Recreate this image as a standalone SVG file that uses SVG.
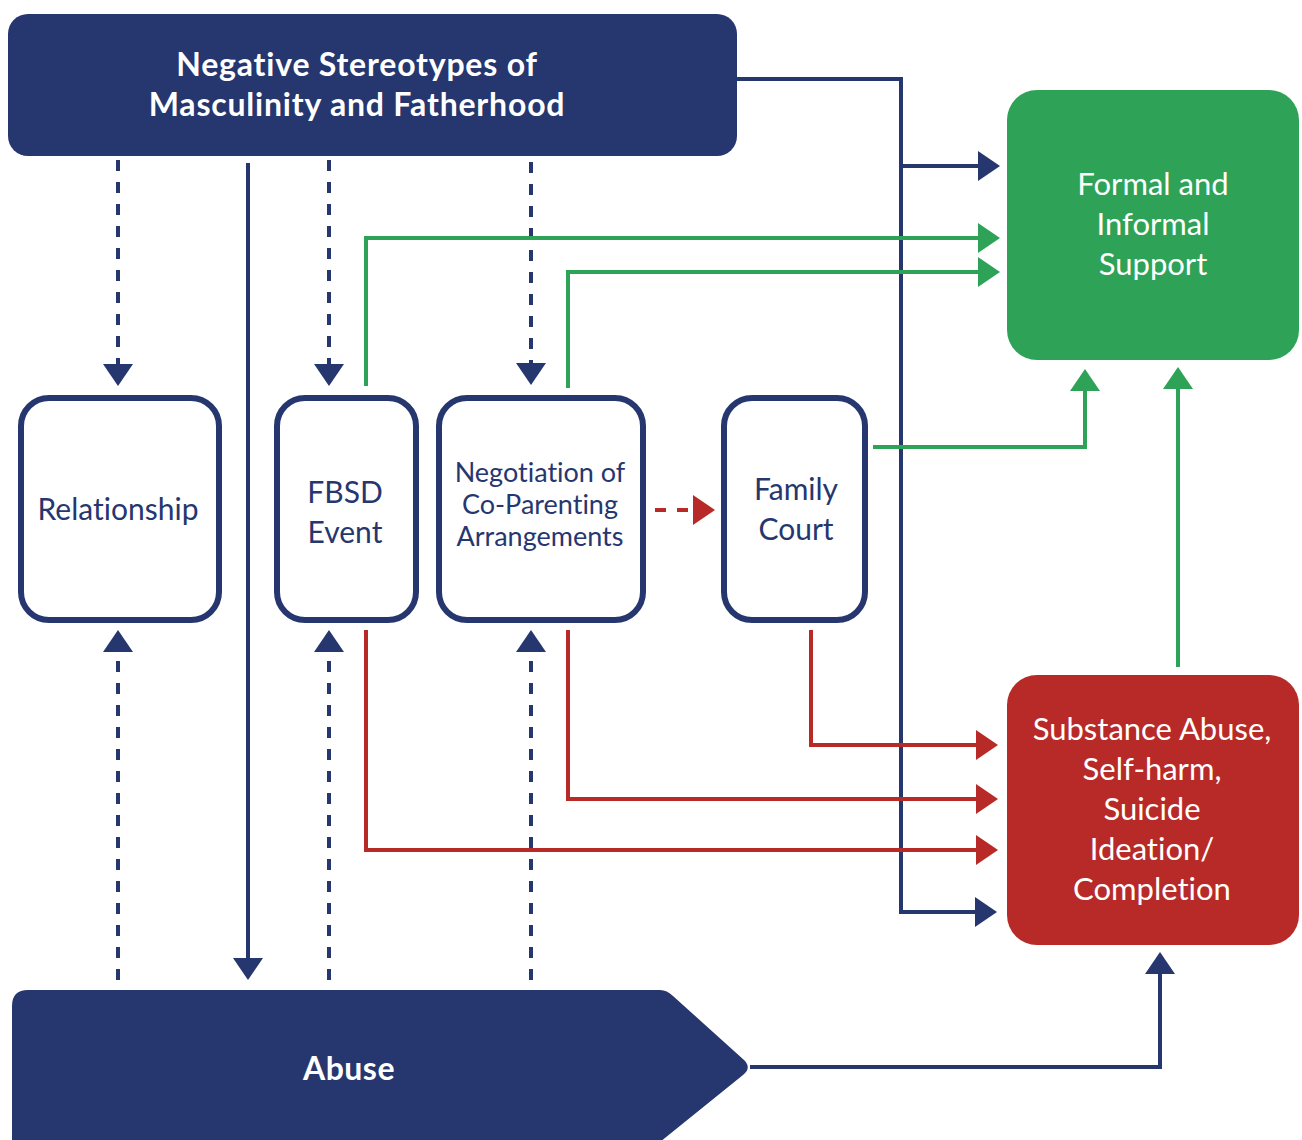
<svg xmlns="http://www.w3.org/2000/svg" width="1302" height="1140" viewBox="0 0 1302 1140">
<style>
.navybox{fill:#26366F;}
.node{fill:#fff;stroke:#26366F;stroke-width:6;}
.t{font-family:Lato,"Open Sans","Liberation Sans",sans-serif;text-anchor:middle;font-variant-ligatures:none;font-feature-settings:"liga" 0;}
.tw{fill:#fff;}
.tn{fill:#26366F;}
.b{font-weight:bold;}
.ln{fill:none;stroke-width:4;}
.nv{stroke:#26366F;}
.gr{stroke:#2EA357;}
.rd{stroke:#B82A27;}
.ds{stroke-dasharray:11 11;}
</style>
<defs>
<marker id="an" markerUnits="userSpaceOnUse" markerWidth="24" markerHeight="32" refX="0" refY="15" orient="auto"><path d="M0,0 L22,15 L0,30 z" fill="#26366F"/></marker>
<marker id="ag" markerUnits="userSpaceOnUse" markerWidth="24" markerHeight="32" refX="0" refY="15" orient="auto"><path d="M0,0 L22,15 L0,30 z" fill="#2EA357"/></marker>
<marker id="ar" markerUnits="userSpaceOnUse" markerWidth="24" markerHeight="32" refX="0" refY="15" orient="auto"><path d="M0,0 L22,15 L0,30 z" fill="#B82A27"/></marker>
</defs>
<g id="connectors">
<polyline class="ln nv" points="737,79 901,79 901,912 975,912" marker-end="url(#an)"/>
<line class="ln nv" x1="901" y1="166" x2="978" y2="166" marker-end="url(#an)"/>
<line class="ln nv" x1="248" y1="163" x2="248" y2="958" marker-end="url(#an)"/>
<line class="ln nv ds" x1="118" y1="160" x2="118" y2="364" marker-end="url(#an)"/>
<line class="ln nv ds" x1="329" y1="160" x2="329" y2="364" marker-end="url(#an)"/>
<line class="ln nv ds" x1="531" y1="162" x2="531" y2="363" marker-end="url(#an)"/>
<line class="ln nv ds" x1="118" y1="980" x2="118" y2="652" marker-end="url(#an)"/>
<line class="ln nv ds" x1="329" y1="980" x2="329" y2="652" marker-end="url(#an)"/>
<line class="ln nv ds" x1="531" y1="980" x2="531" y2="652" marker-end="url(#an)"/>
<polyline class="ln gr" points="366,386 366,238 978,238" marker-end="url(#ag)"/>
<polyline class="ln gr" points="568,388 568,272 978,272" marker-end="url(#ag)"/>
<polyline class="ln gr" points="873,447 1085,447 1085,391" marker-end="url(#ag)"/>
<line class="ln gr" x1="1178" y1="667" x2="1178" y2="389" marker-end="url(#ag)"/>
<polyline class="ln rd" points="811,630 811,745 976,745" marker-end="url(#ar)"/>
<polyline class="ln rd" points="568,630 568,799 976,799" marker-end="url(#ar)"/>
<polyline class="ln rd" points="366,630 366,850 976,850" marker-end="url(#ar)"/>
<line class="ln rd ds" x1="655" y1="510" x2="693" y2="510" marker-end="url(#ar)"/>
<polyline class="ln nv" points="750,1067 1160,1067 1160,974" marker-end="url(#an)"/>
</g>
<g id="node-stereotypes">
<rect class="navybox" x="8" y="14" width="729" height="142" rx="20"/>
<text class="t tw b" x="357" y="76" font-size="32" letter-spacing="0.8">Negative Stereotypes of</text>
<text class="t tw b" x="357" y="116" font-size="32" letter-spacing="0.8">Masculinity and Fatherhood</text>
</g>
<g id="node-relationship">
<rect class="node" x="21" y="398" width="198" height="222" rx="28"/>
<text class="t tn" x="118" y="520" font-size="30">Relationship</text>
</g>
<g id="node-fbsd">
<rect class="node" x="277" y="398" width="139" height="222" rx="28"/>
<text class="t tn" x="345" y="503" font-size="30">FBSD</text>
<text class="t tn" x="345" y="543" font-size="30">Event</text>
</g>
<g id="node-negotiation">
<rect class="node" x="439" y="398" width="204" height="222" rx="28"/>
<text class="t tn" x="540" y="482" font-size="27">Negotiation of</text>
<text class="t tn" x="540" y="514" font-size="27">Co-Parenting</text>
<text class="t tn" x="540" y="546" font-size="27">Arrangements</text>
</g>
<g id="node-familycourt">
<rect class="node" x="724" y="398" width="141" height="222" rx="28"/>
<text class="t tn" x="796" y="500" font-size="30">Family</text>
<text class="t tn" x="796" y="540" font-size="30">Court</text>
</g>
<g id="node-support">
<rect x="1007" y="90" width="292" height="270" rx="30" fill="#2EA357"/>
<text class="t tw" x="1153" y="195" font-size="31">Formal and</text>
<text class="t tw" x="1153" y="235" font-size="31">Informal</text>
<text class="t tw" x="1153" y="275" font-size="31">Support</text>
</g>
<g id="node-substance">
<rect x="1007" y="675" width="292" height="270" rx="30" fill="#B82A27"/>
<text class="t tw" x="1152" y="740" font-size="31">Substance Abuse,</text>
<text class="t tw" x="1152" y="780" font-size="31">Self-harm,</text>
<text class="t tw" x="1152" y="820" font-size="31">Suicide</text>
<text class="t tw" x="1152" y="860" font-size="31">Ideation/</text>
<text class="t tw" x="1152" y="900" font-size="31">Completion</text>
</g>
<g id="node-abuse">
<path class="navybox" d="M12,1006 Q12,990 28,990 L660,990 Q667,990 673,996 L744,1060 Q752,1068 743,1075 L660,1142 L12,1142 z"/>
<text class="t tw b" x="349" y="1080" font-size="32" letter-spacing="0.5">Abuse</text>
</g>
</svg>
